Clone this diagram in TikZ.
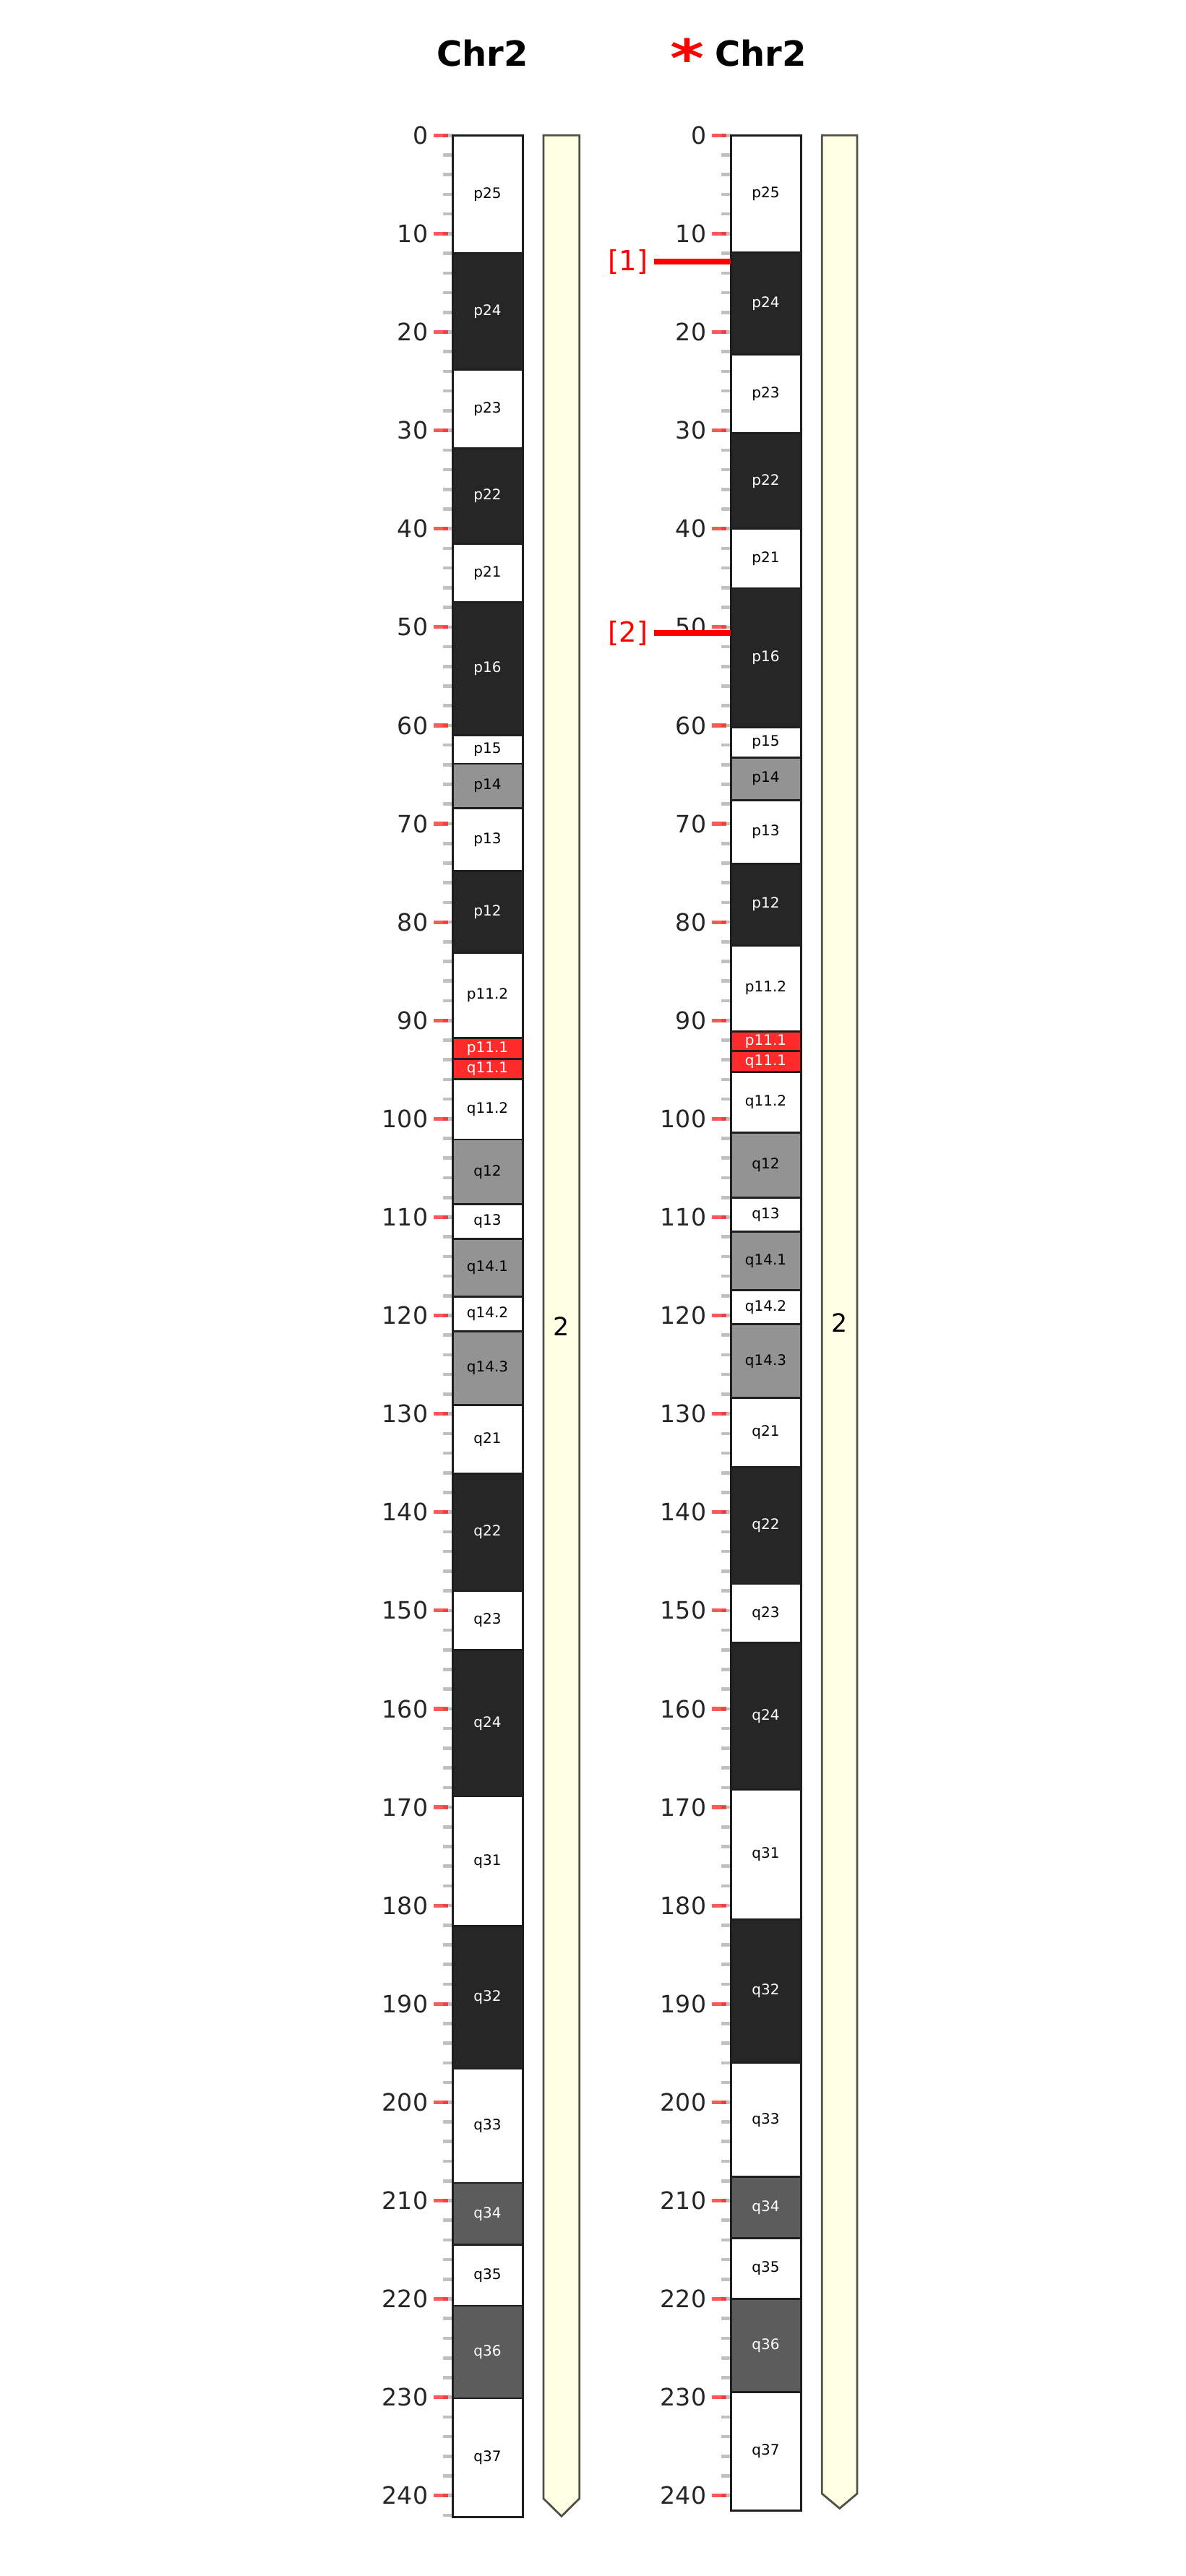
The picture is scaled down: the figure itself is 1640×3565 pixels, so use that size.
\documentclass[tikz,border=0pt]{standalone}
\usepackage{fontspec}
\setmainfont{DejaVu Sans}
\usepackage{tikz}
\usetikzlibrary{calc}

\definecolor{gpfull}{RGB}{38,38,38}
\definecolor{gphalf}{RGB}{147,147,147}
\definecolor{gpthree}{RGB}{92,92,92}
\definecolor{centro}{RGB}{255,42,42}
\definecolor{boxline}{RGB}{30,30,30}
\definecolor{armfill}{RGB}{255,255,228}
\definecolor{armline}{RGB}{80,80,72}
\definecolor{tickgray}{RGB}{192,192,192}
\definecolor{numgray}{RGB}{38,38,38}

\tikzset{
	gneg/.style={fill=white,text=black},
	gpos50/.style={fill=gphalf,text=black},
	gpos75/.style={fill=gpthree,text=white},
	gpos100/.style={fill=gpfull,text=white},
	acen/.style={fill=centro,text=white},
	bandbox/.style={draw=boxline,line width=0.7pt},
	bandlabel/.style={font=\fontsize{5}{5}\selectfont,inner sep=0pt},
	boxframe/.style={draw=boxline,line width=0.75pt},
	minortick/.style={draw=tickgray,line width=1.15pt},
	majortick/.style={draw=red,opacity=0.65,line width=1.3pt},
	scalelabel/.style={font=\fontsize{8.3}{8.3}\selectfont,text=numgray,anchor=east,inner sep=0pt},
	armbar/.style={draw=armline,fill=armfill,line width=0.7pt,line join=miter},
	armlabel/.style={font=\fontsize{8.7}{8.7}\selectfont,inner sep=0pt},
	chrtitle/.style={font=\fontsize{12}{12}\bfseries\selectfont,anchor=base,inner sep=0pt},
	starmark/.style={font=\fontsize{18}{18}\bfseries\selectfont,text=red,inner sep=0pt},
	marklabel/.style={font=\fontsize{9.6}{9.6}\selectfont,text=red,anchor=east,inner sep=2pt},
	markline/.style={draw=red,line width=2pt}
}

% Mb -> pixel row
\newcommand{\mb}[1]{187.3+13.61*(#1)}
% one band: [stain](left x:start:end){label}{name}
\def\band[#1](#2:#3:#4)#5#6{%
	\draw[bandbox,#1] (#2,{\mb{#3}}) rectangle ({#2+97},{\mb{#4}});
	\node[bandlabel,#1,fill=none] (#6) at ({#2+48.5},{(\mb{#3}+\mb{#4})/2}) {#5};}
% ruler: x offset, name prefix, last minor tick
\def\ruler#1#2#3{%
	\foreach \t in {0,2,...,#3} \draw[minortick] ({#1+613},{\mb{\t}}) -- ({#1+626},{\mb{\t}});
	\foreach \t in {0,10,...,240} {
		\draw[majortick] ({#1+600},{\mb{\t}}) -- ({#1+620},{\mb{\t}});
		\node[scalelabel] (#2-\t) at ({#1+593},{\mb{\t}}) {\t};
	}}

\begin{document}
\begin{tikzpicture}[x=0.25pt,y=-0.25pt]
			%%%%% START %%%%%
			\useasboundingbox[fill=white] (0,0) rectangle (1640,3565);
			
			\node[chrtitle] (L-title) at (667.5,91) {Chr2};
			\node[chrtitle] (R-title) at (1052.5,91) {Chr2};
			\node[starmark] (R-star) at (951,80) {\scalebox{1.25}[1]{*}};
			
			%% left chromosome
			\ruler{0}{L}{242}
			\band[gneg](626:0:12.0){p25}{L-p25}
			\band[gpos100](626:12.0:23.8){p24}{L-p24}
			\band[gneg](626:23.8:31.8){p23}{L-p23}
			\band[gpos100](626:31.8:41.5){p22}{L-p22}
			\band[gneg](626:41.5:47.5){p21}{L-p21}
			\band[gpos100](626:47.5:61.0){p16}{L-p16}
			\band[gneg](626:61.0:63.9){p15}{L-p15}
			\band[gpos50](626:63.9:68.4){p14}{L-p14}
			\band[gneg](626:68.4:74.8){p13}{L-p13}
			\band[gpos100](626:74.8:83.1){p12}{L-p12}
			\band[gneg](626:83.1:91.8){p11.2}{L-p11-2}
			\band[acen](626:91.8:93.9){p11.1}{L-p11-1}
			\band[acen](626:93.9:96.0){q11.1}{L-q11-1}
			\band[gneg](626:96.0:102.1){q11.2}{L-q11-2}
			\band[gpos50](626:102.1:108.7){q12}{L-q12}
			\band[gneg](626:108.7:112.2){q13}{L-q13}
			\band[gpos50](626:112.2:118.1){q14.1}{L-q14-1}
			\band[gneg](626:118.1:121.6){q14.2}{L-q14-2}
			\band[gpos50](626:121.6:129.1){q14.3}{L-q14-3}
			\band[gneg](626:129.1:136.1){q21}{L-q21}
			\band[gpos100](626:136.1:148.0){q22}{L-q22}
			\band[gneg](626:148.0:154.0){q23}{L-q23}
			\band[gpos100](626:154.0:168.9){q24}{L-q24}
			\band[gneg](626:168.9:182.1){q31}{L-q31}
			\band[gpos100](626:182.1:196.6){q32}{L-q32}
			\band[gneg](626:196.6:208.2){q33}{L-q33}
			\band[gpos75](626:208.2:214.5){q34}{L-q34}
			\band[gneg](626:214.5:220.7){q35}{L-q35}
			\band[gpos75](626:220.7:230.1){q36}{L-q36}
			\band[gneg](626:230.1:242.2){q37}{L-q37}
			\draw[boxframe] (626,{\mb{0}}) rectangle (723,{\mb{242.2}});
			
			\draw[armbar] (752,{\mb{0}}) -- (752,{\mb{240.3}}) -- (776.9,{\mb{242.1}})
				-- (801.7,{\mb{240.3}}) -- (801.7,{\mb{0}}) -- cycle;
			\node[armlabel] (L-arm) at (776.9,{\mb{121.1}}) {2};
			
			%% right chromosome
			\ruler{385}{R}{240}
			\band[gneg](1011:0:11.9){p25}{R-p25}
			\band[gpos100](1011:11.9:22.3){p24}{R-p24}
			\band[gneg](1011:22.3:30.3){p23}{R-p23}
			\band[gpos100](1011:30.3:40.0){p22}{R-p22}
			\band[gneg](1011:40.0:46.05){p21}{R-p21}
			\band[gpos100](1011:46.05:60.2){p16}{R-p16}
			\band[gneg](1011:60.2:63.25){p15}{R-p15}
			\band[gpos50](1011:63.25:67.6){p14}{R-p14}
			\band[gneg](1011:67.6:74.05){p13}{R-p13}
			\band[gpos100](1011:74.05:82.35){p12}{R-p12}
			\band[gneg](1011:82.35:91.1){p11.2}{R-p11-2}
			\band[acen](1011:91.1:93.1){p11.1}{R-p11-1}
			\band[acen](1011:93.1:95.25){q11.1}{R-q11-1}
			\band[gneg](1011:95.25:101.4){q11.2}{R-q11-2}
			\band[gpos50](1011:101.4:108.0){q12}{R-q12}
			\band[gneg](1011:108.0:111.5){q13}{R-q13}
			\band[gpos50](1011:111.5:117.4){q14.1}{R-q14-1}
			\band[gneg](1011:117.4:120.9){q14.2}{R-q14-2}
			\band[gpos50](1011:120.9:128.4){q14.3}{R-q14-3}
			\band[gneg](1011:128.4:135.4){q21}{R-q21}
			\band[gpos100](1011:135.4:147.3){q22}{R-q22}
			\band[gneg](1011:147.3:153.3){q23}{R-q23}
			\band[gpos100](1011:153.3:168.2){q24}{R-q24}
			\band[gneg](1011:168.2:181.4){q31}{R-q31}
			\band[gpos100](1011:181.4:196.0){q32}{R-q32}
			\band[gneg](1011:196.0:207.6){q33}{R-q33}
			\band[gpos75](1011:207.6:213.8){q34}{R-q34}
			\band[gneg](1011:213.8:220.0){q35}{R-q35}
			\band[gpos75](1011:220.0:229.5){q36}{R-q36}
			\band[gneg](1011:229.5:241.5){q37}{R-q37}
			\draw[boxframe] (1011,{\mb{0}}) rectangle (1108,{\mb{241.5}});
			
			\draw[armbar] (1137.3,{\mb{0}}) -- (1137.3,{\mb{239.8}}) -- (1161.7,{\mb{241.3}})
				-- (1186,{\mb{239.8}}) -- (1186,{\mb{0}}) -- cycle;
			\node[armlabel] (R-arm) at (1161.7,{\mb{120.75}}) {2};
			
			%% markers
			\node[marklabel] (m1) at (905,{\mb{12.84}}) {[1]};
			\coordinate (m1-end) at (1011,{\mb{12.84}});
			\draw[markline] (m1) -- (m1-end);
			\node[marklabel] (m2) at (905,{\mb{50.6}}) {[2]};
			\coordinate (m2-end) at (1011,{\mb{50.6}});
			\draw[markline] (m2) -- (m2-end);
			
			%%%%% END %%%%%
\end{tikzpicture}
\end{document}
